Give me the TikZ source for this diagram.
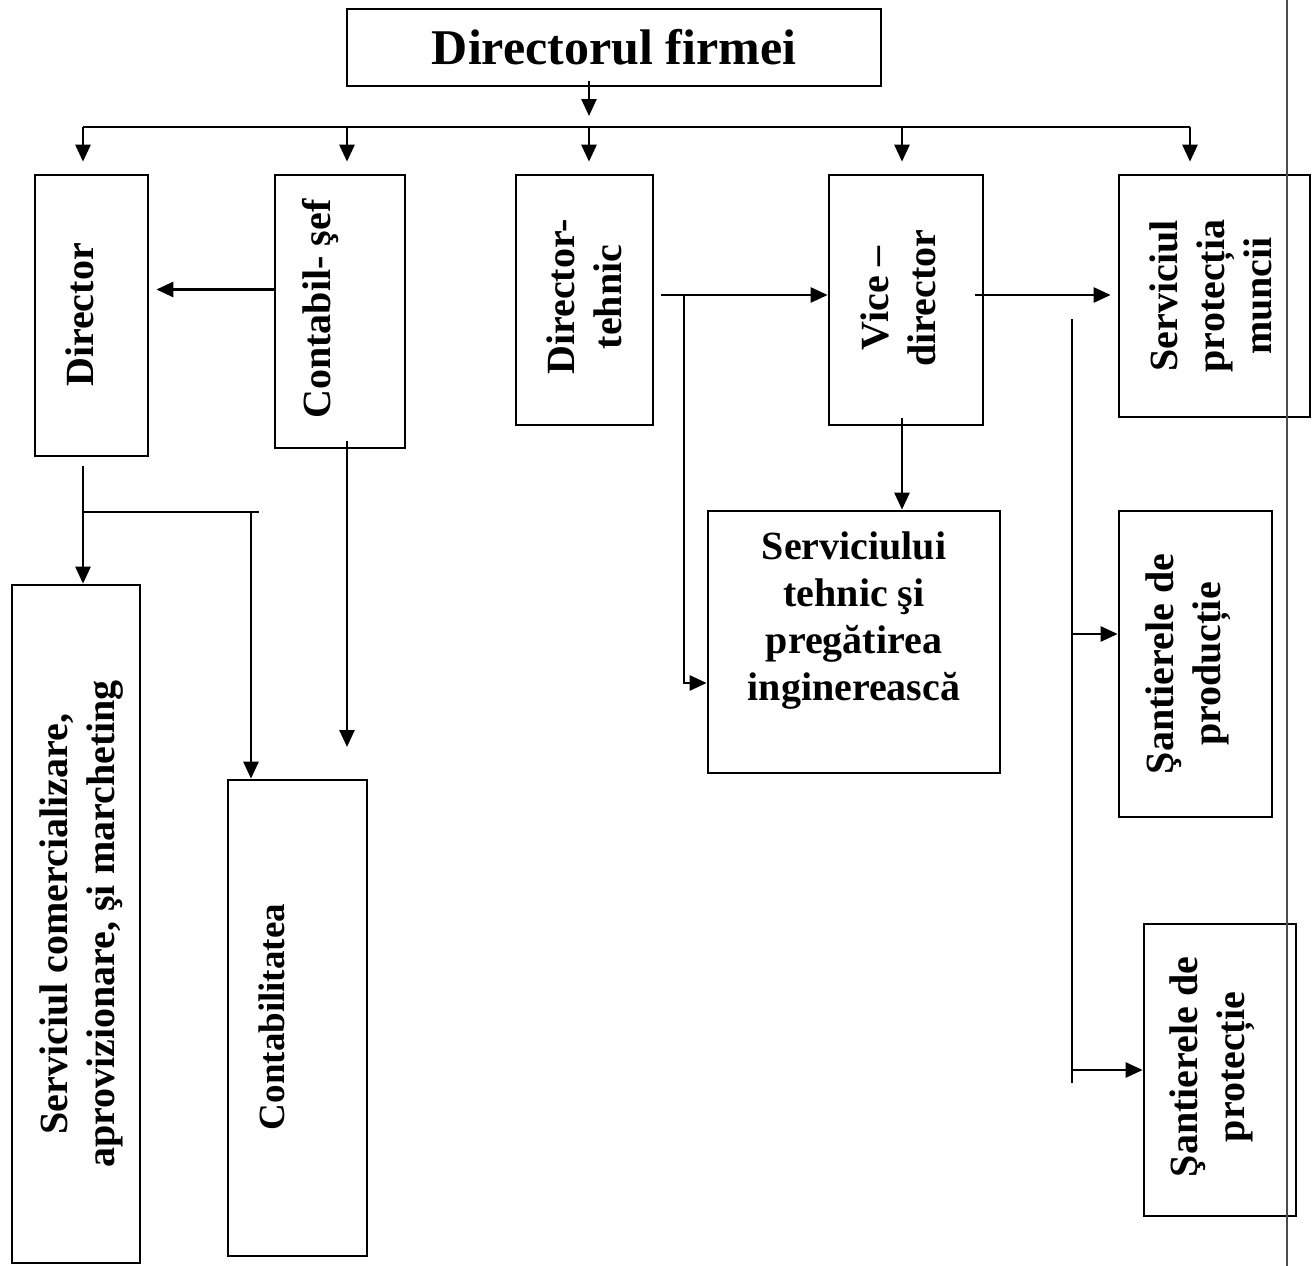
\documentclass[tikz,border=0pt]{standalone}
\usepackage{fontspec}
\setmainfont{Liberation Serif}
\usetikzlibrary{arrows.meta}
\begin{document}
\begin{tikzpicture}[x=1pt,y=-1pt,
  box/.style={draw, line width=2.7pt, inner sep=0pt, rectangle},
  lbl/.style={font=\bfseries\fontsize{40}{47}\selectfont, align=center, inner sep=0pt},
  vlbl/.style={lbl, rotate=90},
  conn/.style={line width=2.6pt},
  arr/.style={conn, -{Triangle[length=17pt,width=15pt]}},
  scanline/.style={draw=black!70, line width=1.2pt}
]
\fill[white] (0,0) rectangle (1315,1266);
\useasboundingbox (0,0) rectangle (1315,1266);

% boxes
\node[box, minimum width=534, minimum height=77, font=\bfseries\fontsize{50}{56}\selectfont] (top) at (614,47.5) {Directorul firmei};
\node[box, minimum width=113, minimum height=281] (dir) at (91.5,315.5) {};
\node[box, minimum width=130, minimum height=273] (cont) at (340,311.5) {};
\node[box, minimum width=137, minimum height=250] (dtech) at (584.5,300) {};
\node[box, minimum width=154, minimum height=250] (vice) at (906,300) {};
\node[box, minimum width=191, minimum height=242] (sprot) at (1214.5,296) {};
\node[box, minimum width=128, minimum height=678] (scom) at (76,924) {};
\node[box, minimum width=139, minimum height=476] (contab) at (297.5,1018) {};
\node[box, minimum width=292, minimum height=262] (stech) at (854,642) {};
\node[box, minimum width=153, minimum height=306] (sprod) at (1195.5,664) {};
\node[box, minimum width=152, minimum height=292] (sprotc) at (1220,1070) {};

% labels
\node[vlbl] (tdir) at (80,315) {Director};
\node[vlbl] (tcont) at (321,309) {Contabil- şef};
\node[vlbl] (tdtech) at (584,297) {Director-\\tehnic};
\node[vlbl] (tvice) at (898,298) {Vice –\\director};
\node[vlbl] (tsprot) at (1211,296) {Serviciul\\protecția\\muncii};
\node[vlbl] (tscom) at (82,924) {Serviciul comercializare,\\aprovizionare, şi marcheting};
\node[vlbl, font=\bfseries\fontsize{37}{44}\selectfont] (tcontab) at (272,1017) {Contabilitatea};
\node[lbl] (tstech) at (854,621) {Serviciului\\tehnic şi\\pregătirea\\inginerească};
\node[vlbl] (tsprod) at (1188,664) {Şantierele de\\producție};
\node[vlbl] (tsprotc) at (1212,1067) {Şantierele de\\protecție};

% bus from top
\coordinate (b1) at (83,127);
\coordinate (b2) at (347,127);
\coordinate (b3) at (589,127);
\coordinate (b4) at (902,127);
\coordinate (b5) at (1190,127);
\draw[arr] ([yshift=6pt]top.south -| b3) -- ([yshift=11pt]b3);
\draw[conn] (b1) -- (b5);
\draw[arr] (b1) -- ([yshift=12pt]dir.north -| b1);
\draw[arr] (b2) -- ([yshift=12pt]cont.north -| b2);
\draw[arr] (b3) -- ([yshift=12pt]dtech.north -| b3);
\draw[arr] (b4) -- ([yshift=12pt]vice.north -| b4);
\draw[arr] (b5) -- ([yshift=12pt]sprot.north -| b5);

% Contabil-sef -> Director
\path ([yshift=22pt]cont.west) coordinate (c1);
\draw[arr, shorten >=7pt] (c1) -- (c1 -| dir.east);
% Contabil-sef down (free end)
\coordinate (contEnd) at (347,747);
\draw[arr] ([yshift=8pt]cont.south -| b2) -- (contEnd);

% Director -> Serviciul comercializare, Contabilitatea
\draw[arr] ([yshift=-9pt]dir.south -| b1) -- (scom.north -| b1);
\coordinate (j1) at (83,512);
\coordinate (j2) at (259,512);
\coordinate (j3) at (251,512);
\draw[conn] (j1) -- (j2);
\draw[arr] (j3) -- (contab.north -| j3);

% Director-tehnic -> Vice-director, Serviciului tehnic
\path ([xshift=7pt,yshift=5pt]dtech.east) coordinate (d1);
\draw[arr] (d1) -- (d1 -| vice.west);
\coordinate (d2) at (684,295);
\coordinate (d3) at (684,683);
\draw[arr] (d2) -- (d3) -- (d3 -| stech.west);

% Vice-director -> Serviciului tehnic, Serviciul protectia muncii
\draw[arr] ([yshift=8pt]vice.south -| b4) -- (stech.north -| b4);
\path ([xshift=-9pt,yshift=5pt]vice.east) coordinate (e1);
\draw[arr, shorten >=7pt] (e1) -- (e1 -| sprot.west);

% vertical line to santiere
\coordinate (v1) at (1072,319);
\coordinate (v2) at (1072,1083);
\coordinate (v3) at (1072,634);
\coordinate (v4) at (1072,1070);
\draw[conn] (v1) -- (v2);
\draw[arr] (v3) -- (v3 -| sprod.west);
\draw[arr] (v4) -- (v4 -| sprotc.west);

% thin page-edge line of the scan
\draw[scanline] (1287,0) -- (1287,1266);
\end{tikzpicture}
\end{document}
